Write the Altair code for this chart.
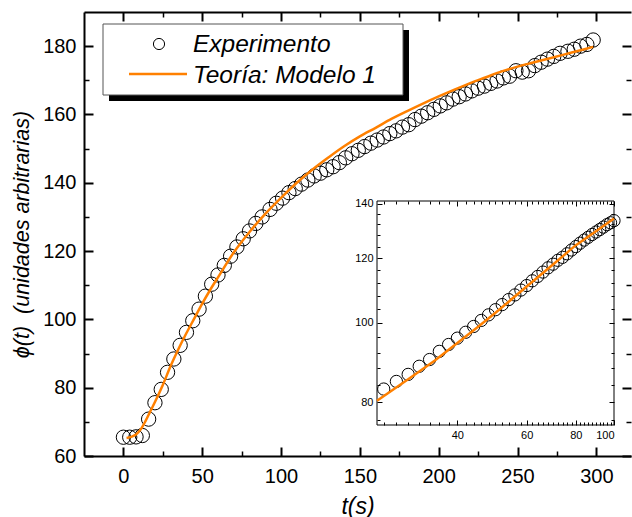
import altair as alt
import pandas as pd

FONT = "Liberation Sans"
ORANGE = "#ff8000"

# ---------------- main data ----------------
t_exp = [0, 4, 8, 12, 16, 20, 24, 28, 32, 36, 40, 44, 48, 52, 56, 60, 64, 68, 72, 76,
         80, 84, 88, 93, 97, 101, 105, 109, 113, 117, 121, 125, 129, 133, 137, 141, 145,
         149, 153, 157, 161, 165, 169, 173, 177, 181, 185, 189, 193, 197, 201, 205, 209,
         213, 217, 221, 225, 229, 233, 237, 241, 245, 249, 253, 257, 261, 265, 269, 273,
         277, 282, 286, 290, 294, 298]
phi_exp = [65.5, 65.5, 65.6, 66.0, 70.8, 75.6, 79.5, 84.5, 88.4, 92.4, 96.2, 99.6, 103.0,
           106.8, 110.3, 113.0, 115.8, 118.5, 121.2, 123.6, 125.9, 128.1, 130.0, 132.2,
           134.0, 135.5, 137.1, 138.3, 139.6, 140.8, 142.0, 142.8, 143.8, 144.7, 145.9,
           147.3, 148.5, 149.5, 150.6, 151.6, 152.5, 153.4, 154.4, 155.2, 156.3, 157.0,
           158.5, 159.5, 160.5, 161.5, 162.5, 163.4, 164.5, 165.2, 166.0, 166.9, 167.7,
           168.3, 169.1, 169.8, 170.7, 171.2, 172.8, 172.4, 172.8, 174.3, 175.3, 176.2,
           177.0, 177.9, 178.5, 179.1, 180.0, 180.5, 181.8]

t_theory = [2, 5, 8, 11, 14, 17, 20, 25, 30, 35, 40, 45, 50, 55, 60, 70, 80, 90, 100, 110,
            120, 130, 140, 150, 160, 170, 180, 190, 200, 210, 220, 230, 240, 250, 260, 270,
            280, 290, 298]
phi_theory = [65.3, 65.6, 66.3, 67.8, 70.2, 73.0, 75.8, 80.8, 86.4, 91.4, 96.0, 100.3, 104.6,
              108.6, 112.3, 119.6, 125.6, 130.9, 135.6, 140.0, 143.9, 147.4, 150.7, 153.6,
              156.1, 158.7, 161.0, 163.2, 165.3, 167.3, 169.2, 170.9, 172.6, 174.0, 175.2,
              176.4, 177.6, 178.8, 179.8]

# ---------------- inset data ----------------
t_in = [26, 28, 30, 32, 34, 36, 38, 40, 42, 44, 46, 48, 50, 52, 54, 56, 58, 60, 62, 64,
        66, 68, 70, 72, 74, 76, 78, 80, 82, 84, 86, 88, 90, 92, 94, 96, 98, 100]
phi_in = [83.0, 84.8, 86.5, 88.5, 90.2, 92.3, 94.1, 95.8, 97.4, 99.0, 100.7, 102.3, 103.8,
          105.3, 106.8, 108.2, 109.7, 111.1, 112.6, 114.0, 115.4, 116.8, 118.0, 119.3,
          120.3, 121.5, 122.8, 124.0, 125.2, 126.3, 127.3, 128.3, 129.2, 130.1, 131.0,
          131.9, 132.6, 133.4]
t_in_theory = [25, 30, 35, 40, 45, 50, 60, 70, 80, 90, 100]
phi_in_theory = [80.3, 85.3, 89.9, 94.5, 98.8, 102.9, 110.8, 117.9, 124.5, 129.5, 134.2]

# ---------------- ticks ----------------
x_major = [0, 50, 100, 150, 200, 250, 300]
x_minor = [25, 75, 125, 175, 225, 275]
y_major = [60, 80, 100, 120, 140, 160, 180]
y_minor = [70, 90, 110, 130, 150, 170]
xin_major = [40, 60, 80, 100]
xin_minor = [26, 28, 30, 32, 34, 36, 38, 42, 44, 46, 48, 50, 52, 54, 56, 58, 62, 64, 66,
             68, 70, 72, 74, 76, 78, 82, 84, 86, 88, 90, 92, 94, 96, 98]
yin_major = [80, 100, 120, 140]
yin_minor = [76, 84, 88, 92, 96, 104, 108, 112, 116, 124, 128, 132, 136]

legend_labels = ["Experimento", "Teoría: Modelo 1"]
x_title = "t(s)"
y_title = "ϕ(t)\u00a0 (unidades arbitrarias)"

# ---------------- layout (pixels) ----------------
W, H = 547, 444
PAD_L, PAD_T = 84, 12
IN_X0, IN_X1 = 293, 530
IN_Y0, IN_Y1 = 413, 189

df_exp = pd.DataFrame({"t": t_exp, "phi": phi_exp})
df_th = pd.DataFrame({"t": t_theory, "phi": phi_theory})
df_in = pd.DataFrame({"t": t_in, "phi": phi_in})
df_in_th = pd.DataFrame({"t": t_in_theory, "phi": phi_in_theory})
one = pd.DataFrame({"a": [0]})

xs = alt.Scale(domain=[-25, 322], nice=False, zero=False)
ys = alt.Scale(domain=[60, 190], nice=False, zero=False)
xs_in = alt.Scale(type="log", domain=[25, 100], range=[IN_X0, IN_X1], nice=False)
ys_in = alt.Scale(type="log", domain=[75, 141], range=[IN_Y0, IN_Y1], nice=False)


def tick_axis(orient, offset, values, size, width, domain=False, z=0):
    return alt.Axis(orient=orient, offset=offset, values=values, tickSize=size,
                    tickWidth=width, tickColor="black", labels=False, title=None,
                    domain=domain, domainColor="black", domainWidth=2, grid=False,
                    zindex=z)


# ---------- main chart ----------
pts = alt.Chart(df_exp).mark_point(shape="circle", size=205, filled=False,
                                   color="black", strokeWidth=1, opacity=1).encode(
    x=alt.X("t:Q", scale=xs, axis=alt.Axis(
        orient="bottom", values=x_major, ticks=False, tickSize=0, labelPadding=10,
        labelFontSize=20, labelFont=FONT, labelColor="black", domain=True,
        domainColor="black", domainWidth=2, grid=False, title=x_title,
        titleFont=FONT, titleFontSize=23, titleFontStyle="italic",
        titleFontWeight="normal", titleColor="black", titleY=50,
        titleBaseline="middle")),
    y=alt.Y("phi:Q", scale=ys, axis=alt.Axis(
        orient="left", values=y_major, ticks=False, tickSize=0, labelPadding=8,
        labelFontSize=20, labelFont=FONT, labelColor="black", domain=True,
        domainColor="black", domainWidth=2, grid=False, title=y_title,
        titleFont=FONT, titleFontSize=21.5, titleFontStyle="italic",
        titleFontWeight="normal", titleColor="black", titleX=-62,
        titleBaseline="middle")),
)

line = alt.Chart(df_th).mark_line(color=ORANGE, strokeWidth=2.5, interpolate="monotone").encode(
    x=alt.X("t:Q", scale=xs, axis=None),
    y=alt.Y("phi:Q", scale=ys, axis=None),
)


def ghost(df, xaxis, yaxis, sx, sy):
    return alt.Chart(df).mark_point(opacity=0).encode(
        x=alt.X("t:Q", scale=sx, axis=xaxis),
        y=alt.Y("phi:Q", scale=sy, axis=yaxis),
    )


m2 = ghost(df_exp, tick_axis("top", -H, x_major, 9, 2),
           tick_axis("right", -W, y_major, 9, 2), xs, ys)
m3 = ghost(df_exp, tick_axis("top", -H, x_minor, 5, 1.5),
           tick_axis("right", -W, y_minor, 5, 1.5), xs, ys)
m4 = ghost(df_exp, tick_axis("bottom", -H, x_major, 9, 2, domain=True),
           tick_axis("left", -W, y_major, 9, 2), xs, ys)
m5 = ghost(df_exp, tick_axis("bottom", -H, x_minor, 5, 1.5),
           tick_axis("left", -W, y_minor, 5, 1.5), xs, ys)

main = alt.layer(pts, line, m2, m3, m4, m5).resolve_axis(x="independent", y="independent")

# ---------- legend (drawn) ----------
LX0, LX1, LY0, LY1 = 19, 319, 12, 83
shadow = alt.Chart(one).mark_rect(fill="black").encode(
    x=alt.value(LX0 + 6), x2=alt.value(LX1 + 6), y=alt.value(LY0 + 6), y2=alt.value(LY1 + 6))
box = alt.Chart(one).mark_rect(fill="white", stroke="#555555", strokeWidth=1).encode(
    x=alt.value(LX0), x2=alt.value(LX1), y=alt.value(LY0), y2=alt.value(LY1))
leg_pt = alt.Chart(one).mark_point(shape="circle", size=125, filled=False, color="black",
                                    strokeWidth=1, opacity=1).encode(
    x=alt.value(75), y=alt.value(32))
leg_line = alt.Chart(one).mark_rule(color=ORANGE, strokeWidth=2.5).encode(
    x=alt.value(45), x2=alt.value(103), y=alt.value(62))
leg_t1 = alt.Chart(one).mark_text(text=legend_labels[0], font=FONT, fontSize=24.5,
                                   fontStyle="italic", align="left", baseline="alphabetic",
                                   color="black").encode(x=alt.value(109), y=alt.value(40))
leg_t2 = alt.Chart(one).mark_text(text=legend_labels[1], font=FONT, fontSize=24.5,
                                   fontStyle="italic", align="left", baseline="alphabetic",
                                   color="black").encode(x=alt.value(109), y=alt.value(71))
legend = alt.layer(shadow, box, leg_pt, leg_line, leg_t1, leg_t2)

# ---------- inset ----------
in_rect = alt.Chart(one).mark_rect(fill="white", stroke="black", strokeWidth=1).encode(
    x=alt.value(IN_X0), x2=alt.value(IN_X1), y=alt.value(IN_Y1), y2=alt.value(IN_Y0))

in_pts = alt.Chart(df_in).mark_point(shape="circle", size=150, filled=False, color="black",
                                     strokeWidth=1, opacity=1).encode(
    x=alt.X("t:Q", scale=xs_in, axis=alt.Axis(
        orient="bottom", offset=-(H - IN_Y0), values=xin_major, ticks=False, tickSize=0,
        labelPadding=4, labelFontSize=11, labelFont=FONT, labelColor="black",
        domain=False, grid=False, title=None, zindex=1)),
    y=alt.Y("phi:Q", scale=ys_in, axis=alt.Axis(
        orient="left", offset=-IN_X0, values=yin_major, ticks=False, tickSize=0,
        labelPadding=4, labelFontSize=11, labelFont=FONT, labelColor="black",
        domain=False, grid=False, title=None, zindex=1)),
)
in_line = alt.Chart(df_in_th).mark_line(color=ORANGE, strokeWidth=2.5).encode(
    x=alt.X("t:Q", scale=xs_in, axis=None),
    y=alt.Y("phi:Q", scale=ys_in, axis=None),
)
i2 = ghost(df_in, tick_axis("top", -IN_Y0, xin_major, 5, 1, z=1),
           tick_axis("right", -(W - IN_X0), yin_major, 5, 1, z=1), xs_in, ys_in)
i3 = ghost(df_in, tick_axis("top", -IN_Y0, xin_minor, 3, 1, z=1),
           tick_axis("right", -(W - IN_X0), yin_minor, 3, 1, z=1), xs_in, ys_in)
i4 = ghost(df_in, tick_axis("bottom", -(H - IN_Y1), xin_major, 5, 1, z=1),
           tick_axis("left", -IN_X1, yin_major, 5, 1, z=1), xs_in, ys_in)
i5 = ghost(df_in, tick_axis("bottom", -(H - IN_Y1), xin_minor, 3, 1, z=1),
           tick_axis("left", -IN_X1, yin_minor, 3, 1, z=1), xs_in, ys_in)

inset = alt.layer(in_rect, in_pts, in_line, i2, i3, i4, i5).resolve_axis(
    x="independent", y="independent")

chart = alt.layer(main, legend, inset).resolve_scale(
    x="independent", y="independent").resolve_axis(
    x="independent", y="independent").properties(
    width=W, height=H,
    autosize=alt.AutoSizeParams(type="none"),
    padding={"left": PAD_L, "top": PAD_T, "right": 632 - PAD_L - W, "bottom": 517 - PAD_T - H},
    background="white",
).configure_view(stroke=None)

chart.save("out.html", embed_options={"renderer": "svg", "actions": False})
